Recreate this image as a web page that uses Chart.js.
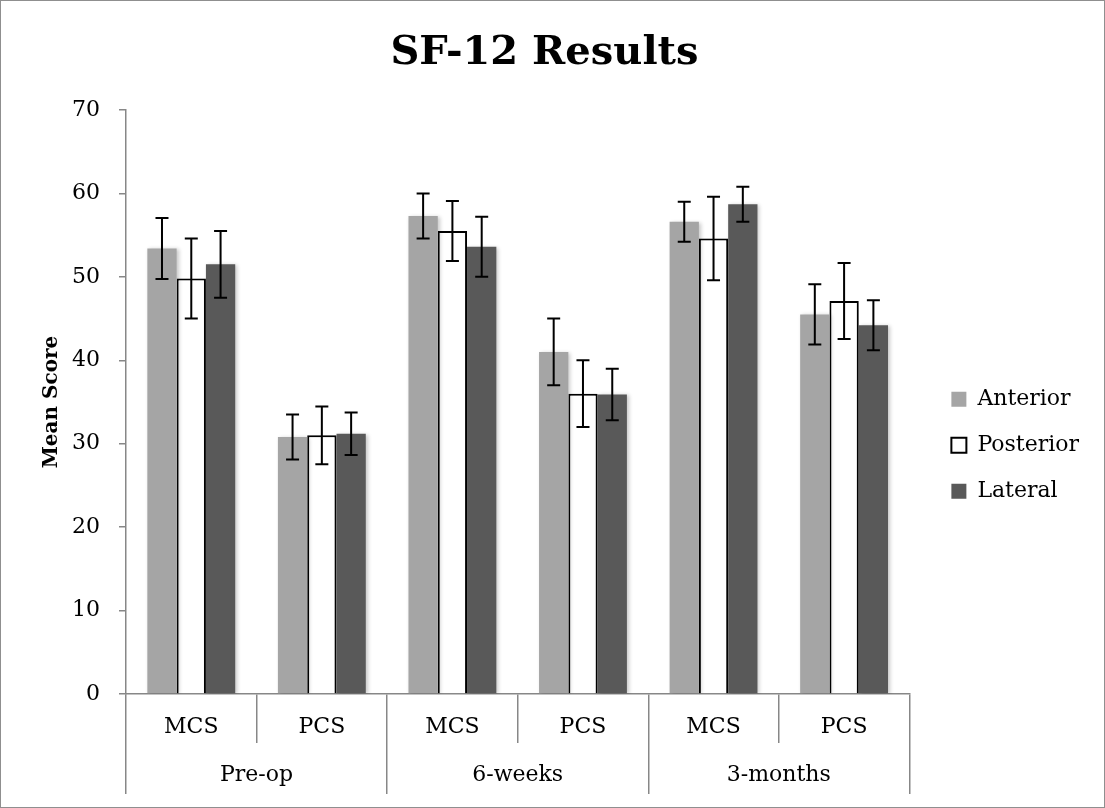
<!DOCTYPE html>
<html>
<head>
<meta charset="utf-8">
<script src="https://cdn.jsdelivr.net/npm/chart.js@4.4.0/dist/chart.umd.min.js"></script>
<style>
  body { margin: 0; background: #fff; }
  #chart { display: block; outline: 1px solid #8f8f8f; outline-offset: -1px; }
</style>
</head>
<body>
<canvas id="chart" width="1105" height="808"></canvas>
<script>
// data
const subLabels = ['MCS', 'PCS', 'MCS', 'PCS', 'MCS', 'PCS'];
const groupLabels = ['Pre-op', '6-weeks', '3-months'];
const yTicks = [0, 10, 20, 30, 40, 50, 60, 70];

const anterior = [53.4, 30.8, 57.3, 41.0, 56.6, 45.5];
const anteriorErr = [3.65, 2.7, 2.7, 4.0, 2.4, 3.6];
const posterior = [49.8, 31.0, 55.5, 36.0, 54.6, 47.1];
const posteriorErr = [4.8, 3.45, 3.6, 4.0, 5.0, 4.55];
const lateral = [51.5, 31.2, 53.6, 35.9, 58.7, 44.2];
const lateralErr = [4.0, 2.55, 3.6, 3.1, 2.1, 3.0];

const serif = "'DejaVu Serif', serif";
const axisGray = '#878787';

// error bars, drawn from each bar's own position and the y scale
const errorBars = {
  id: 'errorBars',
  afterDatasetsDraw(chart) {
    const ctx = chart.ctx;
    const y = chart.scales.y;
    ctx.save();
    ctx.strokeStyle = '#000';
    ctx.lineWidth = 2;
    chart.data.datasets.forEach((ds, i) => {
      const meta = chart.getDatasetMeta(i);
      meta.data.forEach((bar, j) => {
        const top = y.getPixelForValue(ds.data[j] + ds.errors[j]);
        const bot = y.getPixelForValue(ds.data[j] - ds.errors[j]);
        ctx.beginPath();
        ctx.moveTo(bar.x, top); ctx.lineTo(bar.x, bot);
        ctx.moveTo(bar.x - 6.5, top); ctx.lineTo(bar.x + 6.5, top);
        ctx.moveTo(bar.x - 6.5, bot); ctx.lineTo(bar.x + 6.5, bot);
        ctx.stroke();
      });
    });
    ctx.restore();
  }
};

// soft shadow behind the bars
const barShadow = {
  id: 'barShadow',
  beforeDatasetsDraw(chart) {
    const ctx = chart.ctx;
    ctx.save();
    ctx.shadowColor = 'rgba(0,0,0,0.22)';
    ctx.shadowBlur = 4;
    ctx.shadowOffsetX = 2;
    ctx.shadowOffsetY = 1;
  },
  afterDatasetsDraw(chart) { chart.ctx.restore(); }
};

new Chart(document.getElementById('chart').getContext('2d'), {
  type: 'bar',
  data: {
    labels: subLabels,
    datasets: [
      { label: 'Anterior', data: anterior, errors: anteriorErr, backgroundColor: '#a5a5a5', borderWidth: 0 },
      { label: 'Posterior', data: posterior, errors: posteriorErr, backgroundColor: '#ffffff', borderColor: '#000', borderWidth: 2 },
      { label: 'Lateral', data: lateral, errors: lateralErr, backgroundColor: '#595959', borderWidth: 0 }
    ]
  },
  options: {
    responsive: false,
    animation: false,
    categoryPercentage: 0.673,
    barPercentage: 1,
    layout: { padding: { left: 0, right: 16, top: 0, bottom: 2 } },
    plugins: {
      title: {
        display: true,
        text: 'SF-12 Results',
        color: '#000',
        font: { family: serif, size: 40, weight: 'bold' },
        padding: { top: 30, bottom: 32 }
      },
      legend: {
        position: 'right',
        // empty title just pushes the items down like the reference
        title: { display: true, text: '', font: { size: 12 }, padding: 35 },
        labels: {
          color: '#000',
          font: { family: serif, size: 22 },
          boxWidth: 15,
          boxHeight: 15,
          padding: 24,
          generateLabels(chart) {
            return chart.data.datasets.map((ds, i) => ({
              text: ds.label,
              fillStyle: ds.backgroundColor,
              strokeStyle: '#000',
              lineWidth: ds.borderWidth ? 2 : 0,
              datasetIndex: i,
              fontColor: '#000'
            }));
          }
        }
      },
      tooltip: { enabled: false }
    },
    scales: {
      x: {
        offset: true,
        grid: { offset: true, drawOnChartArea: false, tickLength: 49, color: axisGray, lineWidth: 1.5 },
        border: { color: axisGray, width: 1.5 },
        ticks: { color: '#000', font: { family: serif, size: 22 }, padding: -29, maxRotation: 0 },
        afterFit(scale) { scale.height = 49; }
      },
      x2: {
        type: 'category',
        labels: groupLabels,
        position: 'bottom',
        offset: true,
        weight: 1,
        grid: { offset: true, drawOnChartArea: false, tickLength: 51, color: axisGray, lineWidth: 1.5 },
        border: { display: false },
        ticks: { color: '#000', font: { family: serif, size: 22 }, padding: -32, maxRotation: 0 },
        afterFit(scale) { scale.height = 63; }
      },
      y: {
        min: 0,
        max: 70,
        afterBuildTicks(scale) { scale.ticks = yTicks.map(v => ({ value: v })); },
        grid: { drawOnChartArea: false, tickLength: 7, color: axisGray, lineWidth: 1.5 },
        border: { color: axisGray, width: 1.5 },
        ticks: { color: '#000', font: { family: serif, size: 22 }, padding: 19 },
        title: {
          display: true,
          text: 'Mean Score',
          color: '#000',
          font: { family: serif, size: 20, weight: 'bold' },
          padding: { top: 40, bottom: 0 }
        },
        afterFit(scale) { scale.width = 126; }
      },
      // empty axis only to leave the gap between plot and legend
      gap: {
        position: 'right',
        display: true,
        grid: { display: false },
        border: { display: false },
        ticks: { display: false },
        afterFit(scale) { scale.width = 18; }
      }
    }
  },
  plugins: [barShadow, errorBars]
});
</script>
</body>
</html>
